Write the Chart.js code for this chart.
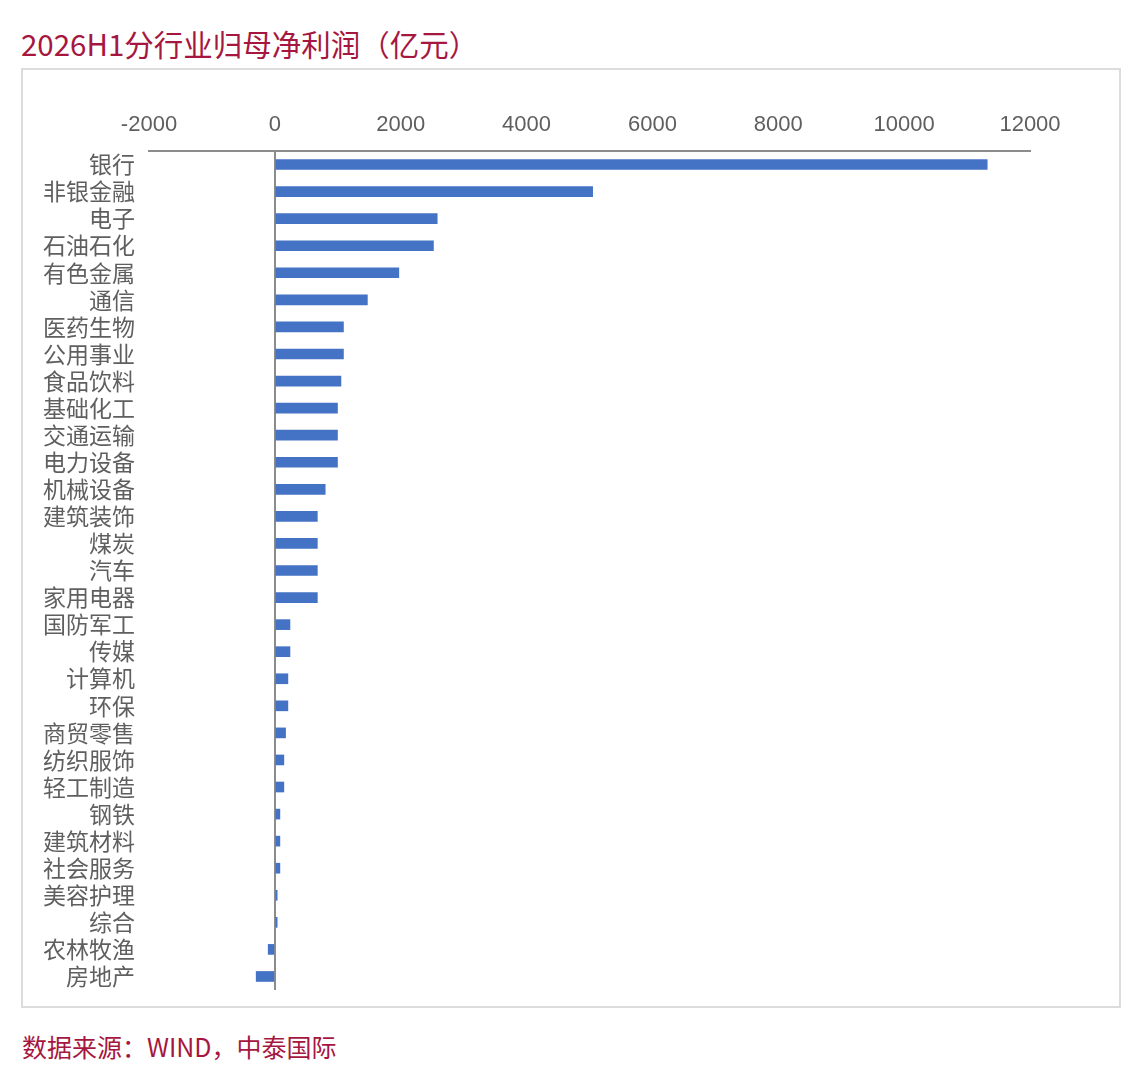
<!DOCTYPE html>
<html>
<head>
<meta charset="utf-8">
<script src="https://cdn.jsdelivr.net/npm/chart.js@4.4.1/dist/chart.umd.min.js"></script>
<style>
  html, body { margin: 0; padding: 0; background: #ffffff; }
  body { width: 1138px; height: 1080px; position: relative; font-family: "Noto Sans CJK SC", "Noto Sans", sans-serif; }
  #title { position: absolute; left: 21px; top: 23px; font-size: 29.5px; font-weight: 400; line-height: 40px; color: #a6173f; white-space: nowrap; }
  #frame { position: absolute; left: 21px; top: 68px; width: 1100px; height: 940px; border: 2px solid #dcdcdc; box-sizing: border-box; }
  #frame canvas { display: block; }
  #source { position: absolute; left: 22px; top: 1028px; font-size: 25px; font-weight: 400; line-height: 36px; color: #a6173f; white-space: nowrap; }
</style>
</head>
<body>
<div id="title">2026H1分行业归母净利润（亿元）</div>
<div id="frame"><canvas id="profitChart" width="1096" height="936"></canvas></div>
<div id="source">数据来源：WIND，中泰国际</div>
<script>
// 行业分类（从上到下）
const industries = [
    '银行', '非银金融', '电子', '石油石化', '有色金属', '通信', '医药生物', '公用事业',
    '食品饮料', '基础化工', '交通运输', '电力设备', '机械设备', '建筑装饰', '煤炭', '汽车',
    '家用电器', '国防军工', '传媒', '计算机', '环保', '商贸零售', '纺织服饰', '轻工制造',
    '钢铁', '建筑材料', '社会服务', '美容护理', '综合', '农林牧渔', '房地产'
];

// 归母净利润（亿元），读图估算
const netProfit = [
    11320, 5050, 2580, 2520, 1970, 1470, 1090, 1090,
    1050, 995, 995, 995, 800, 675, 675, 675,
    675, 240, 240, 207, 207, 170, 143, 143,
    80, 80, 80, 37, 37, -106, -297
];

// x 轴刻度
const xTicks = [-2000, 0, 2000, 4000, 6000, 8000, 10000, 12000];

const ctx = document.getElementById('profitChart').getContext('2d');

const axisGrey = '#8c8c8c';
const labelGrey = '#5f5f5f';

const profitChart = new Chart(ctx, {
    type: 'bar',
    data: {
        labels: industries,
        datasets: [{
            data: netProfit,
            backgroundColor: '#4472c4',
            borderWidth: 0,
            barThickness: 10
        }]
    },
    options: {
        indexAxis: 'y',
        responsive: false,
        animation: false,
        devicePixelRatio: 1,
        layout: {
            padding: { left: 0, top: 0, right: 89, bottom: 16 }
        },
        scales: {
            x: {
                position: 'top',
                min: xTicks[0],
                max: xTicks[xTicks.length - 1],
                afterBuildTicks: function(scale) {
                    scale.ticks = xTicks.map(v => ({ value: v }));
                },
                afterFit: function(scale) {
                    scale.height = 81;
                },
                border: {
                    display: true,
                    color: axisGrey,
                    width: 2
                },
                grid: {
                    drawTicks: false,
                    lineWidth: 2,
                    color: function(context) {
                        return context.tick && context.tick.value === 0 ? axisGrey : 'rgba(0,0,0,0)';
                    }
                },
                ticks: {
                    padding: 13,
                    color: labelGrey,
                    maxRotation: 0,
                    callback: function(value) {
                        return String(value);
                    },
                    font: {
                        family: '"Liberation Sans", Arial, sans-serif',
                        size: 22
                    }
                }
            },
            y: {
                afterFit: function(scale) {
                    scale.width = 126;
                    scale.paddingTop = 0;
                    scale.paddingBottom = 0;
                },
                border: { display: false },
                grid: { display: false, drawTicks: false },
                ticks: {
                    padding: 14,
                    color: labelGrey,
                    autoSkip: false,
                    font: {
                        family: '"Noto Sans CJK SC", sans-serif',
                        size: 23
                    }
                }
            }
        },
        plugins: {
            legend: { display: false },
            tooltip: { enabled: false }
        }
    }
});
</script>
</body>
</html>
